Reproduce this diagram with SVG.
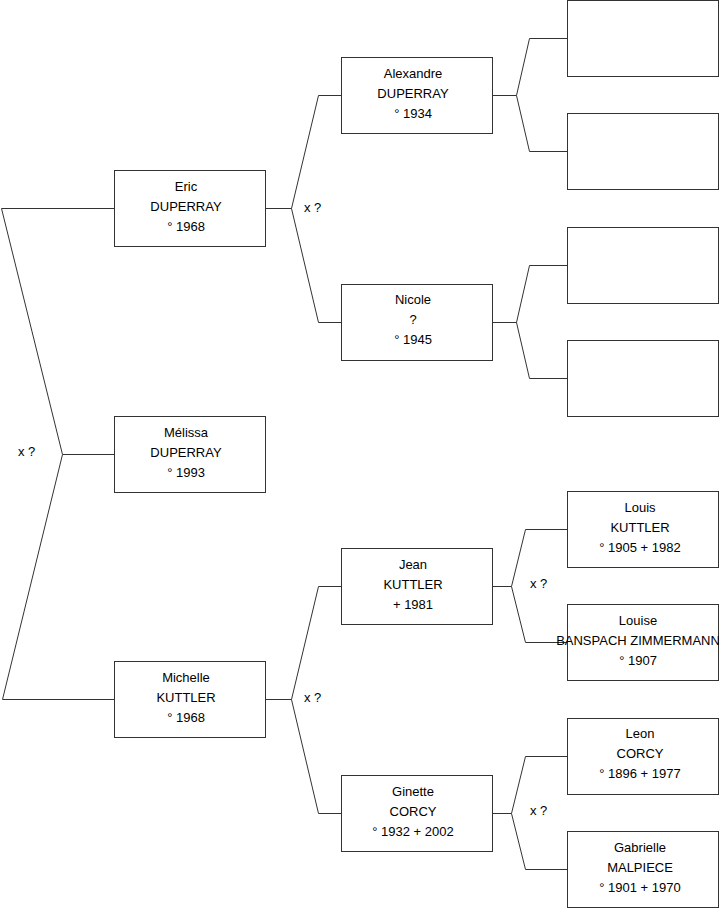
<svg xmlns="http://www.w3.org/2000/svg" width="719" height="908" viewBox="0 0 719 908">
<style>
.box{fill:#fff;stroke:#333;stroke-width:1}
.c{fill:none;stroke:#333;stroke-width:1}
text{font-family:"Liberation Sans",Arial,sans-serif;font-size:13px;fill:#000}
.t{text-anchor:middle}
</style>
<rect width="719" height="908" fill="#fff"/>
<g id="connectors">
<path class="c" d="M114.5,208.5H1.5L62.5,454.5L2.5,699.5H114.5M62.5,454.5H114.5"/>
<path class="c" d="M341.5,95.5H318.5L291.5,208.5L318.5,322.5H341.5M265.5,208.5H291.5"/>
<path class="c" d="M341.5,586.5H318.5L291.5,699.5L318.5,813.5H341.5M265.5,699.5H291.5"/>
<path class="c" d="M567.5,38.5H529.5L516.5,95.5L529.5,151.5H567.5M492.5,95.5H516.5"/>
<path class="c" d="M567.5,265.5H529.5L516.5,322.5L529.5,378.5H567.5M492.5,322.5H516.5"/>
<path class="c" d="M567.5,529.5H525.5L511.5,586.5L525.5,642.5H567.5M492.5,586.5H511.5"/>
<path class="c" d="M567.5,756.5H525.5L511.5,813.5L525.5,869.5H567.5M492.5,813.5H511.5"/>
<text x="18" y="456">x ?</text>
<text x="304" y="212">x ?</text>
<text x="304" y="702">x ?</text>
<text x="530" y="588">x ?</text>
<text x="530" y="815">x ?</text>
</g>
<g id="eric"><rect class="box" x="114.5" y="170.5" width="151" height="76"/><text class="t" x="186" y="191">Eric</text><text class="t" x="186" y="211">DUPERRAY</text><text class="t" x="186" y="231">° 1968</text></g>
<g id="melissa"><rect class="box" x="114.5" y="416.5" width="151" height="76"/><text class="t" x="186" y="437">Mélissa</text><text class="t" x="186" y="457">DUPERRAY</text><text class="t" x="186" y="477">° 1993</text></g>
<g id="michelle"><rect class="box" x="114.5" y="661.5" width="151" height="76"/><text class="t" x="186" y="682">Michelle</text><text class="t" x="186" y="702">KUTTLER</text><text class="t" x="186" y="722">° 1968</text></g>
<g id="alexandre"><rect class="box" x="341.5" y="57.5" width="151" height="76"/><text class="t" x="413" y="78">Alexandre</text><text class="t" x="413" y="98">DUPERRAY</text><text class="t" x="413" y="118">° 1934</text></g>
<g id="nicole"><rect class="box" x="341.5" y="284.5" width="151" height="76"/><text class="t" x="413" y="304">Nicole</text><text class="t" x="413" y="324">?</text><text class="t" x="413" y="344">° 1945</text></g>
<g id="jean"><rect class="box" x="341.5" y="548.5" width="151" height="76"/><text class="t" x="413" y="569">Jean</text><text class="t" x="413" y="589">KUTTLER</text><text class="t" x="413" y="609">+ 1981</text></g>
<g id="ginette"><rect class="box" x="341.5" y="775.5" width="151" height="76"/><text class="t" x="413" y="796">Ginette</text><text class="t" x="413" y="816">CORCY</text><text class="t" x="413" y="836">° 1932 + 2002</text></g>
<g id="empty1"><rect class="box" x="567.5" y="0.5" width="151" height="76"/></g>
<g id="empty2"><rect class="box" x="567.5" y="113.5" width="151" height="76"/></g>
<g id="empty3"><rect class="box" x="567.5" y="227.5" width="151" height="76"/></g>
<g id="empty4"><rect class="box" x="567.5" y="340.5" width="151" height="76"/></g>
<g id="louis"><rect class="box" x="567.5" y="491.5" width="151" height="76"/><text class="t" x="640" y="512">Louis</text><text class="t" x="640" y="532">KUTTLER</text><text class="t" x="640" y="552">° 1905 + 1982</text></g>
<g id="louise"><rect class="box" x="567.5" y="604.5" width="151" height="76"/><text class="t" x="638" y="625">Louise</text><text class="t" x="638" y="645">BANSPACH ZIMMERMANN</text><text class="t" x="638" y="665">° 1907</text></g>
<g id="leon"><rect class="box" x="567.5" y="718.5" width="151" height="76"/><text class="t" x="640" y="738">Leon</text><text class="t" x="640" y="758">CORCY</text><text class="t" x="640" y="778">° 1896 + 1977</text></g>
<g id="gabrielle"><rect class="box" x="567.5" y="831.5" width="151" height="76"/><text class="t" x="640" y="852">Gabrielle</text><text class="t" x="640" y="872">MALPIECE</text><text class="t" x="640" y="892">° 1901 + 1970</text></g>
</svg>
